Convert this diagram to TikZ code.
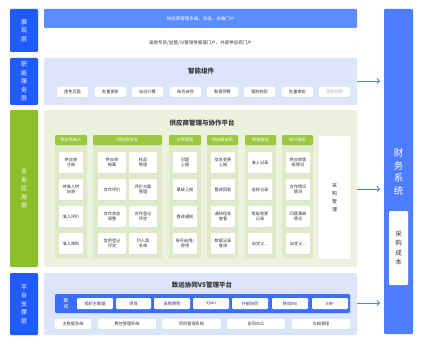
\documentclass[tikz,border=0pt]{standalone}
\usepackage{fontspec}
\setmainfont{Noto Sans CJK SC}
\usetikzlibrary{arrows.meta,shadows}
\definecolor{labelblue}{HTML}{1F5BFF}
\definecolor{topbar}{HTML}{5C8DFF}
\definecolor{finbar}{HTML}{4D7EFF}
\definecolor{funcpanel}{HTML}{DDE5FA}
\definecolor{greenlab}{HTML}{8CBE2C}
\definecolor{greenpanel}{HTML}{EDF2DF}
\definecolor{greenhead}{HTML}{9CC83F}
\definecolor{greencol}{HTML}{E0EAC8}
\definecolor{intbar}{HTML}{3A6EFF}
\definecolor{txt}{HTML}{333333}
\newcommand\bx[7]{\node[#6,minimum width=#4pt,minimum height=#5pt,anchor=north west] (#1) at (#2,#3) {#7};}
\tikzset{
  base/.style={inner sep=0pt,outer sep=0pt,rounded corners=1.2pt,align=center},
  lab/.style={base,fill=labelblue,text=white,font=\fontsize{6}{8.5}\selectfont},
  glab/.style={base,fill=greenlab,text=white,font=\fontsize{6}{8.5}\selectfont},
  panel/.style={base,fill=funcpanel},
  gpanel/.style={base,fill=greenpanel},
  item/.style={base,fill=white,text=txt,font=\fontsize{4.2}{5.6}\selectfont,
    drop shadow={opacity=0.12,shadow xshift=0.4pt,shadow yshift=-0.6pt}},
  ghead/.style={base,fill=greenhead,text=white,font=\fontsize{4.2}{5}\selectfont},
  gcol/.style={base,fill=greencol},
  ttl/.style={inner sep=0pt,text=txt,font=\bfseries\fontsize{6.5}{8}\selectfont},
  arr/.style={draw=finbar,line width=0.8pt,-{Straight Barb[length=2.5pt,width=5pt]},shorten >=4pt},
}
\begin{document}
\begin{tikzpicture}[x=1pt,y=-1pt]
\useasboundingbox[fill=white] (0,0) rectangle (428,350);
% right finance bar
\bx{fin}{384}{9}{29}{325}{base,fill=finbar}{}
\node[text=white,align=center,font=\fontsize{9.5}{12.5}\selectfont] (finT) at (398.5,172) {财\\务\\系\\统};
\bx{cost}{389}{211}{19}{74}{base,fill=white,text=txt,font=\fontsize{6.5}{9.5}\selectfont}{采\\购\\成\\本}
% layer 1
\bx{L1}{10}{9}{28}{43}{lab}{展\\现\\层}
\bx{top1}{44}{9}{313}{19}{base,fill=topbar,text=white,font=\fontsize{4.5}{5.5}\selectfont}{供应商管理多端、多级、多端门户}
\bx{top2}{44}{33}{313}{19}{base,fill=white,text=txt,font=\fontsize{4.5}{5.5}\selectfont,drop shadow={opacity=0.08,shadow xshift=0pt,shadow yshift=-0.8pt}}{采购专员/监管/分管领导管理门户、外部供应商门户}
% layer 2
\bx{L2}{10}{58}{28}{47}{lab}{职\\能\\服\\务\\层}
\bx{P2}{44}{58}{313}{47}{panel}{}
\node[ttl] (T2) at (201,71) {智能组件};
\bx{f1}{57}{87}{31}{10}{item}{角色页面}
\bx{f2}{95}{87}{31}{10}{item}{批量更新}
\bx{f3}{132}{87}{31}{10}{item}{自动计算}
\bx{f4}{170}{87}{31}{10}{item}{账号启停}
\bx{f5}{207}{87}{31}{10}{item}{数据预警}
\bx{f6}{244}{87}{31}{10}{item}{强制校验}
\bx{f7}{282}{87}{31}{10}{item}{批量审批}
\bx{f8}{319}{87}{31}{10}{item,text=black!30}{采购地图}
% layer 3
\bx{L3}{10}{110}{28}{157}{glab}{业\\务\\应\\用\\层}
\bx{P3}{44}{110}{313}{157}{gpanel}{}
\node[ttl] (T3) at (202,123) {供应商管理与协作平台};
% columns
\bx{c1}{55}{135}{32}{123}{gcol}{}
\bx{c2}{93}{135}{69}{123}{gcol}{}
\bx{c3}{169}{135}{32}{123}{gcol}{}
\bx{c4}{207}{135}{31}{123}{gcol}{}
\bx{c5}{245}{135}{31}{123}{gcol}{}
\bx{c6}{282}{135}{31}{123}{gcol}{}
\bx{h1}{55}{135}{32}{10}{ghead}{供应商准入}
\bx{h2}{93}{135}{69}{10}{ghead}{供应商信息}
\bx{h3}{169}{135}{32}{10}{ghead}{日常管理}
\bx{h4}{207}{135}{31}{10}{ghead}{供应商自助}
\bx{h5}{245}{135}{31}{10}{ghead}{数据查询}
\bx{h6}{282}{135}{31}{10}{ghead}{统计报表}
\bx{pm}{319}{136}{31}{123}{item,font=\fontsize{5}{8}\selectfont}{采\\购\\管\\理}
% column 1
\bx{a1}{59}{152}{24}{21}{item}{供应商\\注册}
\bx{a2}{59}{179}{24}{21}{item}{待准入供\\应商}
\bx{a3}{59}{206}{24}{21}{item}{准入评价}
\bx{a4}{59}{233}{24}{21}{item}{准入审批}
% column 2
\bx{b1}{98}{152}{28}{21}{item}{供应商\\档案}
\bx{b2}{129}{152}{28}{21}{item}{样品\\管理}
\bx{b3}{98}{179}{28}{21}{item}{合作评价}
\bx{b4}{129}{179}{28}{21}{item}{评价方案\\管理}
\bx{b5}{98}{206}{28}{21}{item}{合作状态\\调整}
\bx{b6}{129}{206}{28}{21}{item}{合作登记\\评定}
\bx{b7}{98}{233}{28}{21}{item}{信用登记\\评定}
\bx{b8}{129}{233}{28}{21}{item}{列入黑\\名单}
% column 3
\bx{d1}{173}{152}{24}{21}{item}{问题\\上报}
\bx{d2}{173}{179}{24}{21}{item}{事故上报}
\bx{d3}{173}{206}{24}{21}{item}{整改通知}
\bx{d4}{173}{233}{24}{21}{item}{账号启用/\\停用}
% column 4
\bx{e1}{211}{152}{24}{21}{item}{信息变更\\上报}
\bx{e2}{211}{179}{24}{21}{item}{整改回复}
\bx{e3}{211}{206}{24}{21}{item}{通知信息\\查看}
\bx{e4}{211}{233}{24}{21}{item}{数据记录\\查询}
% column 5
\bx{g1}{248}{152}{24}{21}{item}{准入记录}
\bx{g2}{248}{179}{24}{21}{item}{送样记录}
\bx{g3}{248}{206}{24}{21}{item}{等级变更\\记录}
\bx{g4}{248}{233}{24}{21}{item}{自定义...}
% column 6
\bx{k1}{286}{152}{24}{21}{item}{供应商等\\级情况}
\bx{k2}{286}{179}{24}{21}{item}{合作情况\\情况}
\bx{k3}{286}{206}{24}{21}{item}{问题事故\\情况}
\bx{k4}{286}{233}{24}{21}{item}{自定义...}
% layer 4
\bx{L4}{10}{273}{28}{62}{lab}{平\\台\\支\\撑\\层}
\bx{P4}{44}{273}{313}{62}{panel}{}
\node[ttl] (T4) at (202,285) {致远协同V5管理平台};
\bx{ib}{55}{294}{295}{19}{base,fill=intbar}{}
\node[text=white,align=center,font=\fontsize{4.8}{6}\selectfont] (ibT) at (66,303.5) {集\\成};
\bx{i1}{77}{298}{36}{11}{item}{组织主数据}
\bx{i2}{116}{298}{35}{11}{item}{项目}
\bx{i3}{154}{298}{36}{11}{item}{采购费用}
\bx{i4}{193}{298}{36}{11}{item}{Vjion}
\bx{i5}{232}{298}{36}{11}{item}{外部协同}
\bx{i6}{272}{298}{36}{11}{item}{移动M3}
\bx{i7}{312}{298}{36}{11}{item}{ERP}
\bx{s1}{55}{319}{36}{10}{item}{主数据系统}
\bx{s2}{98}{319}{58}{10}{item}{费控管理系统}
\bx{s3}{162}{319}{59}{10}{item}{项目管理系统}
\bx{s4}{227}{319}{58}{10}{item}{协同办公}
\bx{s5}{292}{319}{58}{10}{item}{文档管理}
% arrows
\draw[arr] (P2.east |- 0,81) -- (fin.west |- 0,81);
\draw[arr] (P3.east |- 0,189) -- (fin.west |- 0,189);
\draw[arr] (P4.east |- 0,303) -- (fin.west |- 0,303);
\end{tikzpicture}
\end{document}
